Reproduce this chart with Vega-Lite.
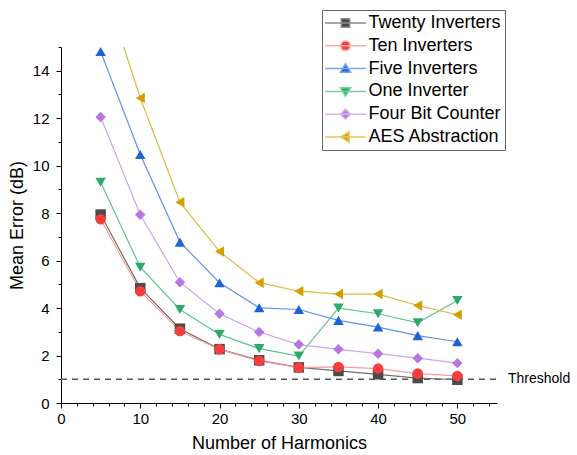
{
  "$schema": "https://vega.github.io/schema/vega-lite/v6.json",
  "width": 436,
  "height": 356,
  "autosize": {"type": "none"},
  "padding": {"left": 61, "top": 47, "right": 80, "bottom": 52},
  "background": "white",
  "config": {
    "view": {"stroke": null},
    "font": "Liberation Sans",
    "axis": {
      "domainColor": "#000000",
      "tickColor": "#000000",
      "labelColor": "#000000",
      "titleColor": "#000000",
      "labelFontSize": 15,
      "titleFontSize": 18,
      "titleFontWeight": "normal",
      "labelFont": "Liberation Sans",
      "titleFont": "Liberation Sans",
      "grid": false,
      "labelFlush": false
    },
    "legend": {
      "labelFontSize": 18,
      "labelFont": "Liberation Sans",
      "labelColor": "#000000",
      "labelLimit": 300,
      "symbolSize": 144,
      "symbolOffset": 10.5,
      "labelOffset": 14,
      "padding": 4,
      "rowPadding": 4.8,
      "strokeColor": "#666666",
      "fillColor": "white",
      "symbolStrokeWidth": 1.5
    }
  },
  "datasets": {
    "errors": [
      {"h": 5, "s": "Twenty Inverters", "v": 7.94},
      {"h": 10, "s": "Twenty Inverters", "v": 4.84},
      {"h": 15, "s": "Twenty Inverters", "v": 3.13},
      {"h": 20, "s": "Twenty Inverters", "v": 2.27},
      {"h": 25, "s": "Twenty Inverters", "v": 1.8},
      {"h": 30, "s": "Twenty Inverters", "v": 1.5},
      {"h": 35, "s": "Twenty Inverters", "v": 1.35},
      {"h": 40, "s": "Twenty Inverters", "v": 1.21},
      {"h": 45, "s": "Twenty Inverters", "v": 1.05},
      {"h": 50, "s": "Twenty Inverters", "v": 0.98},
      {"h": 5, "s": "Ten Inverters", "v": 7.74},
      {"h": 10, "s": "Ten Inverters", "v": 4.71},
      {"h": 15, "s": "Ten Inverters", "v": 3.03},
      {"h": 20, "s": "Ten Inverters", "v": 2.26},
      {"h": 25, "s": "Ten Inverters", "v": 1.77},
      {"h": 30, "s": "Ten Inverters", "v": 1.49},
      {"h": 35, "s": "Ten Inverters", "v": 1.52},
      {"h": 40, "s": "Ten Inverters", "v": 1.45},
      {"h": 45, "s": "Ten Inverters", "v": 1.24},
      {"h": 50, "s": "Ten Inverters", "v": 1.14},
      {"h": 5, "s": "Five Inverters", "v": 14.81},
      {"h": 10, "s": "Five Inverters", "v": 10.47},
      {"h": 15, "s": "Five Inverters", "v": 6.78},
      {"h": 20, "s": "Five Inverters", "v": 5.07},
      {"h": 25, "s": "Five Inverters", "v": 4.01},
      {"h": 30, "s": "Five Inverters", "v": 3.94},
      {"h": 35, "s": "Five Inverters", "v": 3.48},
      {"h": 40, "s": "Five Inverters", "v": 3.2},
      {"h": 45, "s": "Five Inverters", "v": 2.84},
      {"h": 50, "s": "Five Inverters", "v": 2.58},
      {"h": 5, "s": "One Inverter", "v": 9.3},
      {"h": 10, "s": "One Inverter", "v": 5.72},
      {"h": 15, "s": "One Inverter", "v": 3.94},
      {"h": 20, "s": "One Inverter", "v": 2.89},
      {"h": 25, "s": "One Inverter", "v": 2.29},
      {"h": 30, "s": "One Inverter", "v": 1.98},
      {"h": 35, "s": "One Inverter", "v": 4.0},
      {"h": 40, "s": "One Inverter", "v": 3.76},
      {"h": 45, "s": "One Inverter", "v": 3.38},
      {"h": 50, "s": "One Inverter", "v": 4.32},
      {"h": 5, "s": "Four Bit Counter", "v": 12.05},
      {"h": 10, "s": "Four Bit Counter", "v": 7.93},
      {"h": 15, "s": "Four Bit Counter", "v": 5.09},
      {"h": 20, "s": "Four Bit Counter", "v": 3.76},
      {"h": 25, "s": "Four Bit Counter", "v": 2.99},
      {"h": 30, "s": "Four Bit Counter", "v": 2.46},
      {"h": 35, "s": "Four Bit Counter", "v": 2.26},
      {"h": 40, "s": "Four Bit Counter", "v": 2.08},
      {"h": 45, "s": "Four Bit Counter", "v": 1.89},
      {"h": 50, "s": "Four Bit Counter", "v": 1.68},
      {"h": 5, "s": "AES Abstraction", "v": 18.0},
      {"h": 10, "s": "AES Abstraction", "v": 12.85},
      {"h": 15, "s": "AES Abstraction", "v": 8.46},
      {"h": 20, "s": "AES Abstraction", "v": 6.38},
      {"h": 25, "s": "AES Abstraction", "v": 5.07},
      {"h": 30, "s": "AES Abstraction", "v": 4.71},
      {"h": 35, "s": "AES Abstraction", "v": 4.59},
      {"h": 40, "s": "AES Abstraction", "v": 4.59},
      {"h": 45, "s": "AES Abstraction", "v": 4.11},
      {"h": 50, "s": "AES Abstraction", "v": 3.72}
    ],
    "threshold": [{"x0": 0, "x1": 55, "y": 1, "label": "Threshold"}]
  },
  "layer": [
    {
      "data": {"name": "threshold"},
      "mark": {"type": "rule", "strokeDash": [6, 5], "color": "#555555", "strokeWidth": 1.5},
      "encoding": {
        "x": {
          "field": "x0", "type": "quantitative", "title": "Number of Harmonics",
          "scale": {"domain": [0, 55], "nice": false, "zero": false},
          "axis": {
            "values": [0,2,4,6,8,10,12,14,16,18,20,22,24,26,28,30,32,34,36,38,40,42,44,46,48,50,52,54],
            "tickCount": 100,
            "format": "d",
            "labelExpr": "datum.value % 10 === 0 ? datum.label : ''",
            "tickSize": {"condition": {"test": "datum.value % 10 === 0", "value": 5}, "value": 3},
            "labelPadding": 3,
            "titlePadding": 8
          }
        },
        "x2": {"field": "x1"},
        "y": {
          "field": "y", "type": "quantitative", "title": "Mean Error (dB)",
          "scale": {"domain": [0, 15], "nice": false},
          "axis": {
            "values": [0,0.5,1,1.5,2,2.5,3,3.5,4,4.5,5,5.5,6,6.5,7,7.5,8,8.5,9,9.5,10,10.5,11,11.5,12,12.5,13,13.5,14,14.5,15],
            "tickCount": 100,
            "format": "d",
            "labelExpr": "datum.value % 2 === 0 ? datum.label : ''",
            "tickSize": {"condition": {"test": "datum.value % 2 === 0", "value": 5}, "value": 3},
            "labelPadding": 7,
            "titlePadding": 6
          }
        }
      }
    },
    {
      "data": {"name": "threshold"},
      "mark": {"type": "text", "align": "left", "baseline": "middle", "dx": 11, "fontSize": 14, "font": "Liberation Sans", "color": "#000000"},
      "encoding": {
        "x": {"field": "x1", "type": "quantitative", "title": "Number of Harmonics"},
        "y": {"field": "y", "type": "quantitative", "title": "Mean Error (dB)"},
        "text": {"field": "label"}
      }
    },
    {
      "data": {"name": "errors"},
      "mark": {"type": "line", "clip": true, "strokeWidth": 1.2},
      "encoding": {
        "x": {"field": "h", "type": "quantitative", "title": "Number of Harmonics"},
        "y": {"field": "v", "type": "quantitative", "title": "Mean Error (dB)"},
        "stroke": {
          "field": "s", "type": "nominal",
          "scale": {
            "domain": ["Five Inverters", "Twenty Inverters", "Ten Inverters", "One Inverter", "Four Bit Counter", "AES Abstraction"],
            "range": ["#5f95e8", "#6f6f6f", "#ff9a9a", "#5ec48e", "#cda3ea", "#e3b740"]
          },
          "legend": null
        }
      }
    },
    {
      "data": {"name": "errors"},
      "mark": {"type": "point", "filled": true, "opacity": 1, "clip": true, "size": 110},
      "encoding": {
        "x": {"field": "h", "type": "quantitative", "title": "Number of Harmonics"},
        "y": {"field": "v", "type": "quantitative", "title": "Mean Error (dB)"},
        "fill": {
          "field": "s", "type": "nominal",
          "scale": {
            "domain": ["Twenty Inverters", "Ten Inverters", "Five Inverters", "One Inverter", "Four Bit Counter", "AES Abstraction"],
            "range": ["#4b4b4b", "#f73e3e", "#1e64d8", "#2ea96b", "#b678df", "#d69e00"]
          },
          "legend": {
            "title": null, "orient": "none", "legendX": 261, "legendY": -37,
            "encoding": {
              "symbols": {
                "shape": {"value": {"expr": "['M-3.4,0H3.4M-0.7,-0.7H0.7V0.7H-0.7Z','M-3.4,0H3.4M-0.8,0A0.8,0.8,0,1,0,0.8,0A0.8,0.8,0,1,0,-0.8,0Z','M-3.4,0H3.4M0,-0.8L0.85,0.6H-0.85Z','M-3.4,0H3.4M-0.85,-0.6H0.85L0,0.8Z','M-3.4,0H3.4M0,-0.85L0.85,0L0,0.85L-0.85,0Z','M-3.4,0H3.4M-0.8,0L0.6,-0.85V0.85Z'][indexof(['Twenty Inverters','Ten Inverters','Five Inverters','One Inverter','Four Bit Counter','AES Abstraction'], datum.value)]"}},
                "stroke": {"value": {"expr": "['#8a8a8a','#ffaaaa','#7aa6ec','#7ccfa2','#d7b3ee','#e8c462'][indexof(['Twenty Inverters','Ten Inverters','Five Inverters','One Inverter','Four Bit Counter','AES Abstraction'], datum.value)]"}},
                "strokeWidth": {"value": 1.5}
              }
            }
          }
        },
        "shape": {
          "field": "s", "type": "nominal",
          "scale": {
            "domain": ["Ten Inverters", "Twenty Inverters", "Five Inverters", "One Inverter", "Four Bit Counter", "AES Abstraction"],
            "range": ["circle", "square", "triangle-up", "triangle-down", "diamond", "triangle-left"]
          },
          "legend": null
        }
      }
    }
  ]
}
